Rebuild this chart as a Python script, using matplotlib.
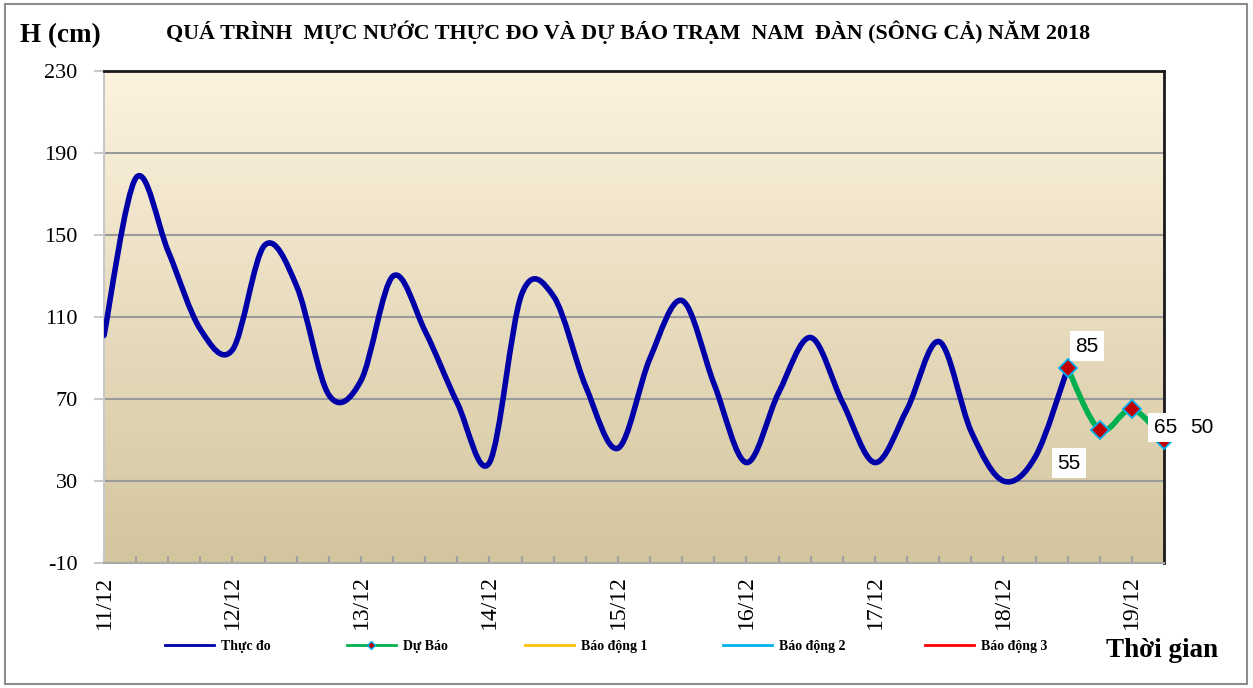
import numpy as np
import matplotlib
matplotlib.use("Agg")
import matplotlib.pyplot as plt
from matplotlib.path import Path
from matplotlib.patches import PathPatch, Rectangle
from matplotlib.lines import Line2D

# số liệu (bước 6 giờ, bắt đầu 11/12 00h)
thuc_do = [101, 178, 142, 104, 94, 145, 125, 72, 79, 130, 103, 68, 39, 121, 120,
           76, 46, 90, 118, 77, 39, 73, 100, 68, 39, 65, 98, 54, 30, 42, 85]
du_bao = [85, 55, 65, 50]
du_bao_start = 30  # chỉ số bước của điểm dự báo đầu tiên
ngay = ["11/12", "12/12", "13/12", "14/12", "15/12", "16/12", "17/12", "18/12", "19/12"]
y_ticks = [-10, 30, 70, 110, 150, 190, 230]
chu_giai = ["Thực đo", "Dự Báo", "Báo động 1", "Báo động 2", "Báo động 3"]

serif = "Liberation Serif"
sans = "Liberation Sans"


def smooth_path(x, y):
    # đường cong Bezier kiểu Excel đi qua các điểm
    pts = np.column_stack([x, y]).astype(float)
    n = len(pts)
    verts = [pts[0]]
    codes = [Path.MOVETO]
    for i in range(n - 1):
        p0 = pts[max(i - 1, 0)]
        p1 = pts[i]
        p2 = pts[i + 1]
        p3 = pts[min(i + 2, n - 1)]
        c1 = p1 + (p2 - p0) / 6.0
        c2 = p2 - (p3 - p1) / 6.0
        verts += [c1, c2, p2]
        codes += [Path.CURVE4] * 3
    return Path(verts, codes)


fig = plt.figure(figsize=(12.53, 6.88), dpi=100)
fig.patches.append(Rectangle((0.004, 0.006), 0.991, 0.988, transform=fig.transFigure,
                             fill=False, edgecolor="#8c8c8c", linewidth=1.5))

ax = fig.add_axes([0.083, 0.1817, 0.846, 0.715])
ax.set_xlim(0, 8.25)
ax.set_ylim(-10, 230)

# nền chuyển màu
grad = np.linspace(0, 1, 256).reshape(-1, 1)
top = np.array([253, 243, 223]) / 255
bot = np.array([211, 197, 158]) / 255
img = top[None, None, :] * (1 - grad[:, :, None]) + bot[None, None, :] * grad[:, :, None]
ax.imshow(img, extent=[0, 8.25, -10, 230], aspect="auto", origin="upper", zorder=0)

for v in y_ticks[1:-1]:
    ax.axhline(v, color="#9a9a9a", linewidth=1.5, zorder=1)

x_obs = np.arange(len(thuc_do)) * 0.25
x_fc = (du_bao_start + np.arange(len(du_bao))) * 0.25

ax.add_patch(PathPatch(smooth_path(x_obs, thuc_do), fill=False, edgecolor="#0000A8",
                       linewidth=4, capstyle="round", joinstyle="round", zorder=3))
ax.add_patch(PathPatch(smooth_path(x_fc, du_bao), fill=False, edgecolor="#00B050",
                       linewidth=4, capstyle="round", joinstyle="round", zorder=3))
ax.plot(x_fc, du_bao, linestyle="none", marker="D", markersize=9,
        markerfacecolor="#C00000", markeredgecolor="#00B0F0", markeredgewidth=1.3,
        zorder=4, clip_on=False)

offsets = [(14, 16), (-22, -24), (24, -13), (27, 9)]
for xv, yv, (dx, dy) in zip(x_fc, du_bao, offsets):
    ax.annotate(str(yv), (xv, yv), xytext=(dx, dy), textcoords="offset points",
                ha="center", va="center", fontsize=15, family=sans,
                bbox=dict(boxstyle="square,pad=0.25", facecolor="white", edgecolor="none"),
                zorder=6, annotation_clip=False)

ax.set_yticks(y_ticks)
ax.set_yticklabels([str(v) for v in y_ticks], fontsize=16, family=serif)
ax.set_xticks(range(len(ngay)))
ax.set_xticklabels(ngay, rotation=90, fontsize=17, family=serif)
ax.set_xticks(np.arange(0, 8.26, 0.25), minor=True)
ax.tick_params(axis="x", which="both", direction="in", length=5, color="#a0a0a0", width=1.5)
ax.tick_params(axis="x", which="major", pad=9)
ax.tick_params(axis="y", direction="out", length=7, color="#c8c8c8", width=1.5, pad=12)

ax.spines["top"].set_color("#1a1a1a")
ax.spines["right"].set_color("#1a1a1a")
ax.spines["top"].set_linewidth(2)
ax.spines["right"].set_linewidth(2)
ax.spines["left"].set_color("#c8c8c8")
ax.spines["bottom"].set_color("#a8a8a8")
ax.spines["left"].set_linewidth(1.5)
ax.spines["bottom"].set_linewidth(1.5)

fig.text(0.501, 0.953, "QUÁ TRÌNH  MỰC NƯỚC THỰC ĐO VÀ DỰ BÁO TRẠM  NAM  ĐÀN (SÔNG CẢ) NĂM 2018",
         ha="center", va="center", fontsize=15.8, fontweight="bold", family=serif)
fig.text(0.048, 0.948, "H (cm)", ha="center", va="center", fontsize=19.5,
         fontweight="bold", family=serif)
fig.text(0.927, 0.054, "Thời gian", ha="center", va="center", fontsize=19.5,
         fontweight="bold", family=serif)

handles = [
    Line2D([], [], color="#0000A8", linewidth=2),
    Line2D([], [], color="#00B050", linewidth=2, marker="D", markersize=4,
           markerfacecolor="#C00000", markeredgecolor="#00B0F0"),
    Line2D([], [], color="#FFC000", linewidth=2),
    Line2D([], [], color="#00B0F0", linewidth=2),
    Line2D([], [], color="#FF0000", linewidth=2),
]
leg_x = [165, 347, 525, 723, 925]
for h, lab, lx in zip(handles, chu_giai, leg_x):
    fig.legend([h], [lab], loc="center left", bbox_to_anchor=(lx / 1253, 0.06),
               frameon=False, prop=dict(family=serif, size=10, weight="bold"),
               handlelength=3.5, handletextpad=0.5, borderpad=0, borderaxespad=0)

fig.savefig("out.png", dpi=100)
